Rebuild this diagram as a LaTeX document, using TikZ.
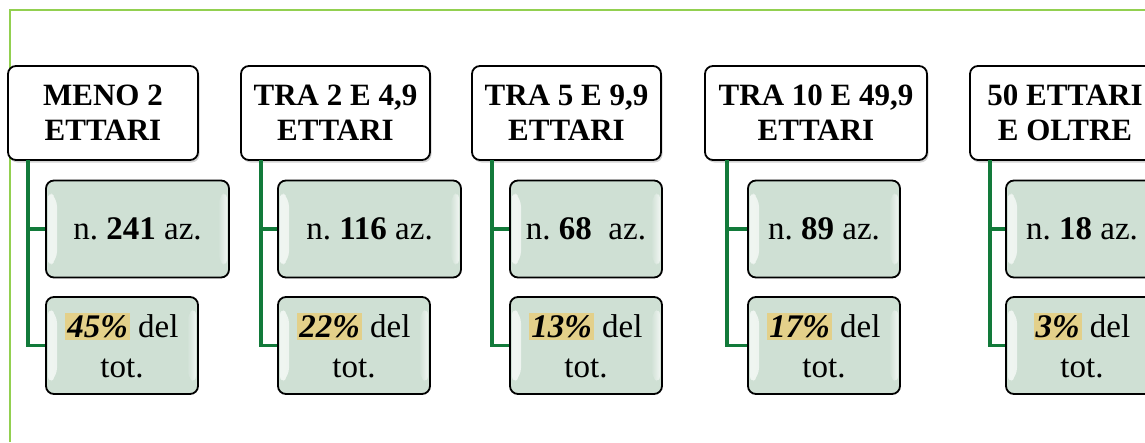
\documentclass[tikz,border=0pt]{standalone}
\usepackage{fontspec}
\setmainfont{Liberation Serif}
\frenchspacing
\usetikzlibrary{shadows}
\definecolor{frameg}{HTML}{92D050}
\definecolor{conng}{HTML}{127A3A}
\definecolor{boxfill}{HTML}{CFE0D4}
\definecolor{hlcol}{HTML}{E3D08A}
\newcommand{\hlt}[1]{{\setlength{\fboxsep}{2pt}\colorbox{hlcol}{\bfseries\itshape #1}}}
\tikzset{
  hbox/.style={draw=black, line width=1.8pt, fill=white, rounded corners=8pt,
    align=center, inner sep=0pt, minimum height=94pt,
    font=\fontsize{31}{35}\selectfont\bfseries,
    drop shadow={shadow xshift=1.5pt, shadow yshift=-2.5pt, opacity=0.35}},
  cbox/.style={draw=black, line width=1.8pt, fill=boxfill, rounded corners=8pt,
    align=center, inner sep=0pt, minimum height=97pt, minimum width=152pt,
    font=\fontsize{33}{40}\selectfont,
    path picture={
      \shade[left color=white, right color=boxfill, opacity=0.7]
        ([xshift=2pt,yshift=10pt]path picture bounding box.south west) --
        ([xshift=2pt,yshift=-10pt]path picture bounding box.north west) --
        ([xshift=11pt,yshift=-18pt]path picture bounding box.north west) --
        ([xshift=11pt,yshift=18pt]path picture bounding box.south west) -- cycle;
      \shade[right color=white, left color=boxfill, opacity=0.7]
        ([xshift=-2pt,yshift=10pt]path picture bounding box.south east) --
        ([xshift=-2pt,yshift=-10pt]path picture bounding box.north east) --
        ([xshift=-11pt,yshift=-18pt]path picture bounding box.north east) --
        ([xshift=-11pt,yshift=18pt]path picture bounding box.south east) -- cycle;
    }},
  conn/.style={draw=conng, line width=3.4pt},
}
\begin{document}
\begin{tikzpicture}[x=1pt,y=-1pt]
\useasboundingbox (0,0) rectangle (1145,442);
\clip (0,0) rectangle (1145,442);
\draw[frameg, line width=1.5pt] (10,442) -- (10,10) -- (1146,10);

% connectors (drawn first, boxes on top)
\coordinate (v1) at (28,160);
\coordinate (v2) at (261,160);
\coordinate (v3) at (492,160);
\coordinate (v4) at (727,160);
\coordinate (v5) at (990,160);

% headers
\node[hbox, minimum width=190pt] (h1) at (103,113) {MENO 2\\ETTARI};
\node[hbox, minimum width=189pt] (h2) at (335.5,113) {TRA 2 E 4,9\\ETTARI};
\node[hbox, minimum width=189pt] (h3) at (566.5,113) {TRA 5 E 9,9\\ETTARI};
\node[hbox, minimum width=222pt] (h4) at (816,113) {TRA 10 E 49,9\\ETTARI};
\node[hbox, minimum width=190pt] (h5) at (1065,113) {50 ETTARI\\E OLTRE};

% children
\node[cbox, minimum width=183pt] (a1) at (137.5,229) {n. \textbf{241} az.};
\node[cbox] (b1) at (122,345.5) {\hlt{45\%} del\\tot.};
\node[cbox, minimum width=183pt] (a2) at (369.5,229) {n. \textbf{116} az.};
\node[cbox] (b2) at (354,345.5) {\hlt{22\%} del\\tot.};
\node[cbox] (a3) at (586,229) {n. \textbf{68}\ \ az.};
\node[cbox] (b3) at (586,345.5) {\hlt{13\%} del\\tot.};
\node[cbox] (a4) at (824,229) {n. \textbf{89} az.};
\node[cbox] (b4) at (824,345.5) {\hlt{17\%} del\\tot.};
\node[cbox] (a5) at (1082,229) {n. \textbf{18} az.};
\node[cbox] (b5) at (1082,345.5) {\hlt{3\%} del\\tot.};

\foreach \i in {1,...,5}{
  \draw[conn] (v\i) |- (a\i.west);
  \draw[conn] (v\i) |- (b\i.west);
}
\end{tikzpicture}
\end{document}
